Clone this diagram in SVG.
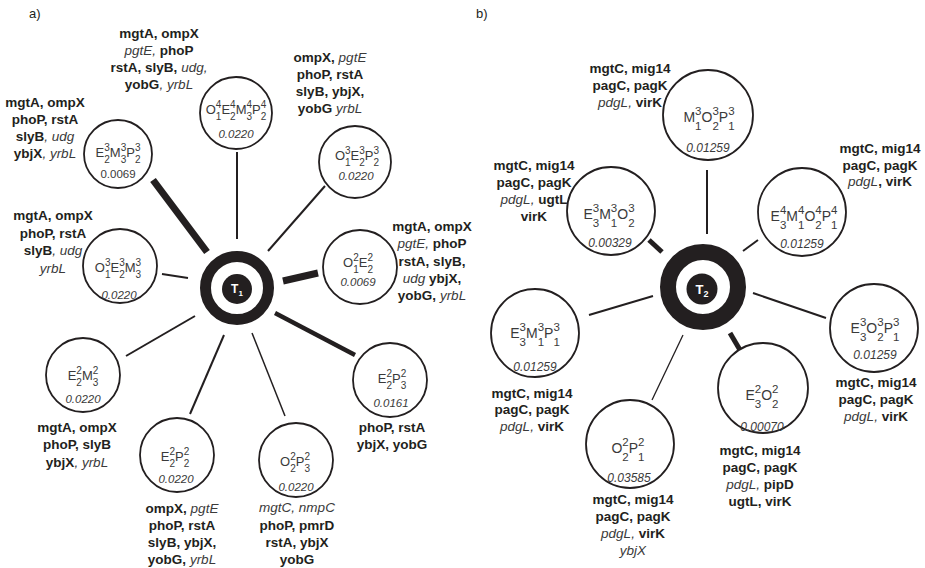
<svg xmlns="http://www.w3.org/2000/svg" width="925" height="568" viewBox="0 0 925 568">
<style>
.bg{fill:#fff}
.nd{fill:#fff;stroke:#231f20;stroke-width:1.8}
.ring{fill:none;stroke:#231f20}
.disc{fill:#231f20}
.tl{font-family:"Liberation Sans",Arial,sans-serif;font-weight:bold;fill:#fff;text-anchor:middle}
.lb{font-family:"Liberation Sans",Arial,sans-serif;font-size:13.5px;font-weight:bold;fill:#231f20;text-anchor:middle}
.i{font-weight:normal;font-style:italic;fill:#3a3a3a}
.fa{font-family:"Liberation Sans",Arial,sans-serif;font-size:13px;fill:#3a3a3a;text-anchor:middle}
.fb{font-family:"Liberation Sans",Arial,sans-serif;font-size:14px;fill:#3a3a3a;text-anchor:middle}
.da{font-size:10px}
.db{font-size:11.5px}
.na{font-family:"Liberation Sans",Arial,sans-serif;font-size:11.5px;font-style:italic;fill:#3a3a3a;text-anchor:middle}
.nu{font-style:normal}
.nb{font-family:"Liberation Sans",Arial,sans-serif;font-size:12px;font-style:italic;fill:#3a3a3a;text-anchor:middle}
.pl{font-family:"Liberation Sans",Arial,sans-serif;font-size:13px;fill:#231f20}
.c{stroke:#231f20;stroke-linecap:butt;fill:none}
</style>
<rect class="bg" x="0" y="0" width="925" height="568"/>
<text class="pl" x="29" y="18">a)</text>
<text class="pl" x="476" y="18">b)</text>

<g id="connectors">
<line class="c" x1="153" y1="180" x2="207" y2="252" stroke-width="7"/>
<line class="c" x1="237" y1="152" x2="237" y2="239" stroke-width="2"/>
<line class="c" x1="325" y1="186" x2="268" y2="251" stroke-width="2"/>
<line class="c" x1="162" y1="274" x2="188" y2="278" stroke-width="2"/>
<line class="c" x1="283" y1="281" x2="318" y2="273" stroke-width="7"/>
<line class="c" x1="126" y1="356" x2="195" y2="316" stroke-width="2"/>
<line class="c" x1="190" y1="414" x2="224" y2="335" stroke-width="2"/>
<line class="c" x1="252" y1="333" x2="285" y2="416" stroke-width="1.5"/>
<line class="c" x1="275" y1="313" x2="355" y2="355" stroke-width="4.5"/>
<line class="c" x1="707" y1="170" x2="707" y2="234" stroke-width="2"/>
<line class="c" x1="649" y1="240" x2="662" y2="252" stroke-width="5"/>
<line class="c" x1="743" y1="251" x2="758" y2="240" stroke-width="2"/>
<line class="c" x1="753" y1="293" x2="826" y2="318" stroke-width="2"/>
<line class="c" x1="730" y1="333" x2="740" y2="350" stroke-width="5"/>
<line class="c" x1="683" y1="335" x2="652" y2="400" stroke-width="1.3"/>
<line class="c" x1="589" y1="315" x2="653" y2="296" stroke-width="2"/>
</g>

<g id="T1">
<circle class="ring" cx="237" cy="288" r="31.5" stroke-width="11"/>
<circle class="disc" cx="237" cy="289" r="15"/>
<text class="tl" x="237" y="293" font-size="12">T<tspan font-size="8" dy="3">1</tspan></text>
</g>

<g id="a1">
<circle class="nd" cx="118" cy="154" r="34"/>
<text class="fa" x="118" y="157">E<tspan class="da" dy="-6">3</tspan><tspan class="da" dx="-5.56" dy="12">2</tspan><tspan dy="-6">M</tspan><tspan class="da" dy="-6">3</tspan><tspan class="da" dx="-5.56" dy="12">3</tspan><tspan dy="-6">P</tspan><tspan class="da" dy="-6">3</tspan><tspan class="da" dx="-5.56" dy="12">2</tspan></text>
<text class="na nu" x="118" y="178">0.0069</text>
<text class="lb" x="45" y="107">mgtA, ompX</text>
<text class="lb" x="45" y="124">phoP, rstA</text>
<text class="lb" x="45" y="141">slyB<tspan class="i">, udg</tspan></text>
<text class="lb" x="45" y="158">ybjX<tspan class="i">, yrbL</tspan></text>
</g>

<g id="a2">
<circle class="nd" cx="236" cy="113" r="36"/>
<text class="fa" x="236" y="114">O<tspan class="da" dy="-6">4</tspan><tspan class="da" dx="-5.56" dy="12">1</tspan><tspan dy="-6">E</tspan><tspan class="da" dy="-6">4</tspan><tspan class="da" dx="-5.56" dy="12">2</tspan><tspan dy="-6">M</tspan><tspan class="da" dy="-6">4</tspan><tspan class="da" dx="-5.56" dy="12">3</tspan><tspan dy="-6">P</tspan><tspan class="da" dy="-6">4</tspan><tspan class="da" dx="-5.56" dy="12">2</tspan></text>
<text class="na" x="236" y="138">0.0220</text>
<text class="lb" x="159" y="38">mgtA, ompX</text>
<text class="lb" x="159" y="55"><tspan class="i">pgtE, </tspan>phoP</text>
<text class="lb" x="159" y="72">rstA, slyB,<tspan class="i"> udg,</tspan></text>
<text class="lb" x="159" y="89">yobG<tspan class="i">, yrbL</tspan></text>
</g>

<g id="a3">
<circle class="nd" cx="355" cy="162" r="36"/>
<text class="fa" x="357" y="160">O<tspan class="da" dy="-6">3</tspan><tspan class="da" dx="-5.56" dy="12">1</tspan><tspan dy="-6">E</tspan><tspan class="da" dy="-6">3</tspan><tspan class="da" dx="-5.56" dy="12">2</tspan><tspan dy="-6">P</tspan><tspan class="da" dy="-6">3</tspan><tspan class="da" dx="-5.56" dy="12">2</tspan></text>
<text class="na" x="356" y="180">0.0220</text>
<text class="lb" x="330" y="62">ompX,<tspan class="i"> pgtE</tspan></text>
<text class="lb" x="330" y="79">phoP, rstA</text>
<text class="lb" x="330" y="96">slyB,  ybjX,</text>
<text class="lb" x="330" y="113">yobG<tspan class="i"> yrbL</tspan></text>
</g>

<g id="a4">
<circle class="nd" cx="120" cy="266" r="37"/>
<text class="fa" x="118" y="272">O<tspan class="da" dy="-6">3</tspan><tspan class="da" dx="-5.56" dy="12">1</tspan><tspan dy="-6">E</tspan><tspan class="da" dy="-6">3</tspan><tspan class="da" dx="-5.56" dy="12">2</tspan><tspan dy="-6">M</tspan><tspan class="da" dy="-6">3</tspan><tspan class="da" dx="-5.56" dy="12">3</tspan></text>
<text class="na" x="119" y="299">0.0220</text>
<text class="lb" x="53" y="220">mgtA, ompX</text>
<text class="lb" x="53" y="238">phoP, rstA</text>
<text class="lb" x="53" y="255">slyB<tspan class="i">, udg</tspan></text>
<text class="lb" x="53" y="273"><tspan class="i">yrbL</tspan></text>
</g>

<g id="a5">
<circle class="nd" cx="360" cy="267" r="37"/>
<text class="fa" x="358" y="267">O<tspan class="da" dy="-6">2</tspan><tspan class="da" dx="-5.56" dy="12">1</tspan><tspan dy="-6">E</tspan><tspan class="da" dy="-6">2</tspan><tspan class="da" dx="-5.56" dy="12">2</tspan></text>
<text class="na" x="358" y="286">0.0069</text>
<text class="lb" x="432" y="231">mgtA, ompX</text>
<text class="lb" x="432" y="248"><tspan class="i">pgtE, </tspan>phoP</text>
<text class="lb" x="432" y="266">rstA, slyB,</text>
<text class="lb" x="432" y="283"><tspan class="i">udg </tspan> ybjX,</text>
<text class="lb" x="432" y="300">yobG, <tspan class="i"> yrbL</tspan></text>
</g>

<g id="a6">
<circle class="nd" cx="83" cy="375" r="37"/>
<text class="fa" x="83" y="380">E<tspan class="da" dy="-6">2</tspan><tspan class="da" dx="-5.56" dy="12">2</tspan><tspan dy="-6">M</tspan><tspan class="da" dy="-6">2</tspan><tspan class="da" dx="-5.56" dy="12">3</tspan></text>
<text class="na" x="83" y="403">0.0220</text>
<text class="lb" x="77" y="432">mgtA, ompX</text>
<text class="lb" x="77" y="449">phoP,  slyB</text>
<text class="lb" x="77" y="467">ybjX<tspan class="i">, yrbL</tspan></text>
</g>

<g id="a7">
<circle class="nd" cx="177" cy="455" r="37"/>
<text class="fa" x="175" y="461">E<tspan class="da" dy="-6">2</tspan><tspan class="da" dx="-5.56" dy="12">2</tspan><tspan dy="-6">P</tspan><tspan class="da" dy="-6">2</tspan><tspan class="da" dx="-5.56" dy="12">2</tspan></text>
<text class="na" x="176" y="483">0.0220</text>
<text class="lb" x="182" y="513">ompX,<tspan class="i"> pgtE</tspan></text>
<text class="lb" x="182" y="530">phoP, rstA</text>
<text class="lb" x="182" y="547">slyB, ybjX,</text>
<text class="lb" x="182" y="564">yobG,<tspan class="i"> yrbL</tspan></text>
</g>

<g id="a8">
<circle class="nd" cx="296" cy="460" r="37"/>
<text class="fa" x="295" y="466">O<tspan class="da" dy="-6">2</tspan><tspan class="da" dx="-5.56" dy="12">2</tspan><tspan dy="-6">P</tspan><tspan class="da" dy="-6">2</tspan><tspan class="da" dx="-5.56" dy="12">3</tspan></text>
<text class="na" x="296" y="491">0.0220</text>
<text class="lb" x="297" y="512"><tspan class="i">mgtC, nmpC</tspan></text>
<text class="lb" x="297" y="530">phoP, pmrD</text>
<text class="lb" x="297" y="547">rstA, ybjX</text>
<text class="lb" x="297" y="564">yobG</text>
</g>

<g id="a9">
<circle class="nd" cx="390" cy="380" r="37"/>
<text class="fa" x="392" y="383">E<tspan class="da" dy="-6">2</tspan><tspan class="da" dx="-5.56" dy="12">2</tspan><tspan dy="-6">P</tspan><tspan class="da" dy="-6">2</tspan><tspan class="da" dx="-5.56" dy="12">3</tspan></text>
<text class="na" x="391" y="407">0.0161</text>
<text class="lb" x="392" y="432">phoP,  rstA</text>
<text class="lb" x="392" y="449">ybjX, yobG</text>
</g>

<g id="T2">
<circle class="ring" cx="703" cy="287" r="35" stroke-width="16"/>
<circle class="disc" cx="702" cy="289" r="15.5"/>
<text class="tl" x="702" y="294" font-size="13">T<tspan font-size="9" dy="3">2</tspan></text>
</g>

<g id="b1">
<circle class="nd" cx="708" cy="115" r="45"/>
<text class="fb" x="709" y="122">M<tspan class="db" dy="-7">3</tspan><tspan class="db" dx="-6.4" dy="14.5">1</tspan><tspan dy="-7.5">O</tspan><tspan class="db" dy="-7">3</tspan><tspan class="db" dx="-6.4" dy="14.5">2</tspan><tspan dy="-7.5">P</tspan><tspan class="db" dy="-7">3</tspan><tspan class="db" dx="-6.4" dy="14.5">1</tspan></text>
<text class="nb" x="708" y="152">0.01259</text>
<text class="lb" x="630" y="73">mgtC, mig14</text>
<text class="lb" x="630" y="90">pagC, pagK</text>
<text class="lb" x="630" y="107"><tspan class="i">pdgL, </tspan>virK</text>
</g>

<g id="b2">
<circle class="nd" cx="611" cy="211" r="44"/>
<text class="fb" x="609" y="219">E<tspan class="db" dy="-7">3</tspan><tspan class="db" dx="-6.4" dy="14.5">3</tspan><tspan dy="-7.5">M</tspan><tspan class="db" dy="-7">3</tspan><tspan class="db" dx="-6.4" dy="14.5">1</tspan><tspan dy="-7.5">O</tspan><tspan class="db" dy="-7">3</tspan><tspan class="db" dx="-6.4" dy="14.5">2</tspan></text>
<text class="nb" x="610" y="247">0.00329</text>
<text class="lb" x="534" y="170">mgtC, mig14</text>
<text class="lb" x="534" y="187">pagC, pagK</text>
<text class="lb" x="534" y="204"><tspan class="i">pdgL, </tspan>ugtL</text>
<text class="lb" x="534" y="221">virK</text>
</g>

<g id="b3">
<circle class="nd" cx="802" cy="212" r="44"/>
<text class="fb" x="804" y="221">E<tspan class="db" dy="-7">4</tspan><tspan class="db" dx="-6.4" dy="14.5">3</tspan><tspan dy="-7.5">M</tspan><tspan class="db" dy="-7">4</tspan><tspan class="db" dx="-6.4" dy="14.5">1</tspan><tspan dy="-7.5">O</tspan><tspan class="db" dy="-7">4</tspan><tspan class="db" dx="-6.4" dy="14.5">2</tspan><tspan dy="-7.5">P</tspan><tspan class="db" dy="-7">4</tspan><tspan class="db" dx="-6.4" dy="14.5">1</tspan></text>
<text class="nb" x="802" y="248">0.01259</text>
<text class="lb" x="880" y="153">mgtC, mig14</text>
<text class="lb" x="880" y="170">pagC, pagK</text>
<text class="lb" x="880" y="186"><tspan class="i">pdgL</tspan>, virK</text>
</g>

<g id="b4">
<circle class="nd" cx="535" cy="333" r="44"/>
<text class="fb" x="535" y="338">E<tspan class="db" dy="-7">3</tspan><tspan class="db" dx="-6.4" dy="14.5">3</tspan><tspan dy="-7.5">M</tspan><tspan class="db" dy="-7">3</tspan><tspan class="db" dx="-6.4" dy="14.5">1</tspan><tspan dy="-7.5">P</tspan><tspan class="db" dy="-7">3</tspan><tspan class="db" dx="-6.4" dy="14.5">1</tspan></text>
<text class="nb" x="535" y="371">0.01259</text>
<text class="lb" x="532" y="398">mgtC, mig14</text>
<text class="lb" x="532" y="414">pagC, pagK</text>
<text class="lb" x="532" y="431"><tspan class="i">pdgL, </tspan>virK</text>
</g>

<g id="b5">
<circle class="nd" cx="630" cy="444" r="44"/>
<text class="fb" x="628" y="453">O<tspan class="db" dy="-7">2</tspan><tspan class="db" dx="-6.4" dy="14.5">2</tspan><tspan dy="-7.5">P</tspan><tspan class="db" dy="-7">2</tspan><tspan class="db" dx="-6.4" dy="14.5">1</tspan></text>
<text class="nb" x="629" y="482">0.03585</text>
<text class="lb" x="633" y="504">mgtC, mig14</text>
<text class="lb" x="633" y="521">pagC, pagK</text>
<text class="lb" x="633" y="538"><tspan class="i">pdgL, </tspan>virK</text>
<text class="lb" x="633" y="555"><tspan class="i">ybjX</tspan></text>
</g>

<g id="b6">
<circle class="nd" cx="763" cy="388" r="45"/>
<text class="fb" x="762" y="400">E<tspan class="db" dy="-7">2</tspan><tspan class="db" dx="-6.4" dy="14.5">3</tspan><tspan dy="-7.5">O</tspan><tspan class="db" dy="-7">2</tspan><tspan class="db" dx="-6.4" dy="14.5">2</tspan></text>
<text class="nb" x="762" y="431">0.00070</text>
<text class="lb" x="760" y="455">mgtC, mig14</text>
<text class="lb" x="760" y="472">pagC, pagK</text>
<text class="lb" x="760" y="489"><tspan class="i">pdgL, </tspan>pipD</text>
<text class="lb" x="760" y="506">ugtL, virK</text>
</g>

<g id="b7">
<circle class="nd" cx="874" cy="328" r="44"/>
<text class="fb" x="875" y="333">E<tspan class="db" dy="-7">3</tspan><tspan class="db" dx="-6.4" dy="14.5">3</tspan><tspan dy="-7.5">O</tspan><tspan class="db" dy="-7">3</tspan><tspan class="db" dx="-6.4" dy="14.5">2</tspan><tspan dy="-7.5">P</tspan><tspan class="db" dy="-7">3</tspan><tspan class="db" dx="-6.4" dy="14.5">1</tspan></text>
<text class="nb" x="875" y="359">0.01259</text>
<text class="lb" x="876" y="387">mgtC, mig14</text>
<text class="lb" x="876" y="404">pagC, pagK</text>
<text class="lb" x="876" y="421"><tspan class="i">pdgL, </tspan>virK</text>
</g>
</svg>
